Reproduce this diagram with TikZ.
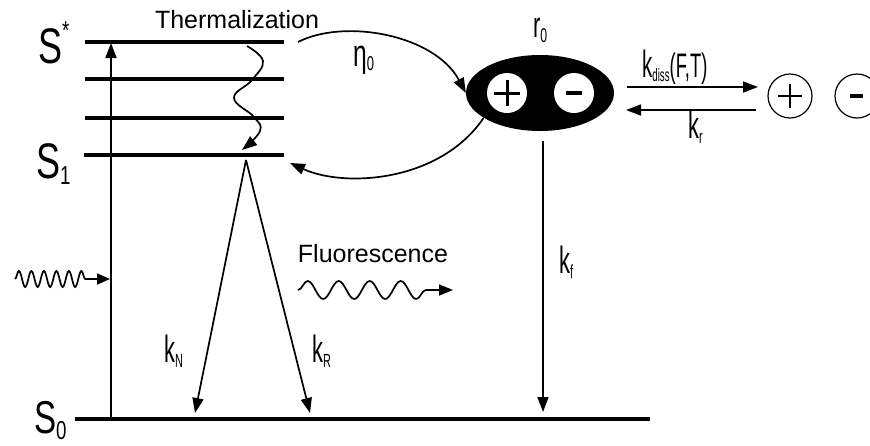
\documentclass[tikz,border=0pt]{standalone}
\usepackage{fontspec}
\setmainfont{Liberation Sans}
\usetikzlibrary{arrows.meta,shapes.geometric,decorations.pathmorphing}
\tikzset{
  level/.style={line width=3.2pt},
  arr/.style={line width=1.7pt,-{Triangle[length=15pt,width=11pt]}},
  lbl/.style={inner sep=0pt,anchor=base west,xscale=0.72},
  txt/.style={inner sep=0pt,anchor=base,font=\fontsize{25}{25}\selectfont},
}
\newcommand{\kk}[1]{{\fontsize{38}{38}\selectfont k}\raisebox{-5pt}{\fontsize{19}{19}\selectfont #1}}
\begin{document}
\begin{tikzpicture}[x=1pt,y=-1pt]
\useasboundingbox (0,0) rectangle (870,445);
\clip (0,0) rectangle (870,445);
% levels
\coordinate (s4L) at (85,42);  \coordinate (s4R) at (284,42);
\coordinate (s3L) at (85,79);  \coordinate (s3R) at (284,79);
\coordinate (s2L) at (85,118); \coordinate (s2R) at (284,118);
\coordinate (s1L) at (84,155); \coordinate (s1R) at (284,155);
\coordinate (s0L) at (75,419); \coordinate (s0R) at (650,419);
\draw[level] (s4L) -- (s4R);
\draw[level] (s3L) -- (s3R);
\draw[level] (s2L) -- (s2R);
\draw[level] (s1L) -- (s1R);
\draw[level] (s0L) -- (s0R);
% state labels
\node[lbl] (Sstar) at (38,63) {{\fontsize{50}{50}\selectfont S}\raisebox{24pt}{\fontsize{26}{26}\selectfont *}};
\node[lbl] (Sone) at (36,178) {{\fontsize{50}{50}\selectfont S}\raisebox{-6pt}{\fontsize{26}{26}\selectfont 1}};
\node[lbl] (Szero) at (34,433) {{\fontsize{46}{46}\selectfont S}\raisebox{-6pt}{\fontsize{26}{26}\selectfont 0}};
% excitation
\coordinate (excB) at (111,418);
\coordinate (excT) at (111,43);
\draw[arr] (excB) -- (excT);
\coordinate (lightA) at (15,279);
\coordinate (lightB) at (110,279);
\draw[line width=1.7pt,-{Triangle[length=13pt,width=11pt]},decorate,
  decoration={snake,amplitude=8pt,segment length=12.5pt,post length=20pt}] (lightA) -- (lightB);
% thermalization
\node[txt] (therm) at (237,28) {Thermalization};
\draw[arr] plot[smooth,tension=0.7] coordinates {(247,46) (263,61) (252,80) (234,98) (254,117) (260,131) (242,150)};
% decay from S1
\coordinate (apex) at (246,160);
\coordinate (kNend) at (195,413);
\coordinate (kRend) at (310,413);
\draw[arr] (apex) -- (kNend);
\draw[arr] (apex) -- (kRend);
\node[lbl,xscale=0.8] (kN) at (164,362) {\kk{N}};
\node[lbl,xscale=0.8] (kR) at (312,362) {\kk{R}};
% fluorescence
\node[txt] (fluo) at (373,262) {Fluorescence};
\coordinate (flA) at (298,290);
\coordinate (flB) at (453,290);
\draw[line width=1.7pt,-{Triangle[length=14pt,width=11pt]},decorate,
  decoration={snake,amplitude=9pt,segment length=31pt,post length=14pt}] (flA) -- (flB);
% charge transfer state
\node[ellipse,fill=black,minimum width=148pt,minimum height=76pt,inner sep=0pt] (ct) at (540,93) {};
\node[circle,fill=white,minimum size=40pt,inner sep=0pt] (cp) at (507,93) {};
\node[circle,fill=white,minimum size=40pt,inner sep=0pt] (cm) at (574,93) {};
\draw[line width=3pt] ([xshift=-13pt]cp.center) -- ([xshift=13pt]cp.center);
\draw[line width=3pt] ([yshift=-13pt]cp.center) -- ([yshift=13pt]cp.center);
\draw[line width=4pt] ([xshift=-8pt]cm.center) -- ([xshift=8pt]cm.center);
\node[lbl,xscale=0.85] (r0) at (533,37) {{\fontsize{36}{36}\selectfont r}\raisebox{-5pt}{\fontsize{20}{20}\selectfont 0}};
\node[lbl,xscale=0.9] (eta) at (353,66) {{\fontsize{38}{38}\selectfont η}\raisebox{-4pt}{\fontsize{20}{20}\selectfont 0}};
% transfer arrows
\coordinate (etaA) at (298,42);
\coordinate (backB) at (290,163);
\draw[arr] (etaA) .. controls (345,18) and (435,35) .. (ct.west);
\draw[arr] (ct.south west) ++(-4pt,2pt) coordinate (backA) .. controls (440,182) and (345,188) .. (backB);
% recombination to ground
\coordinate (kfA) at (543,141);
\coordinate (kfB) at (543,412);
\draw[arr] (kfA) -- (kfB);
\node[lbl,xscale=0.8] (kf) at (559,273) {\kk{f}};
% dissociation
\coordinate (dA) at (627,87);  \coordinate (dB) at (758,87);
\coordinate (rA) at (756,110); \coordinate (rB) at (626,110);
\draw[arr] (dA) -- (dB);
\draw[arr] (rA) -- (rB);
\node[lbl,xscale=0.75] (kdiss) at (642,77) {{\fontsize{38}{38}\selectfont k}\raisebox{-4pt}{\fontsize{18}{18}\selectfont diss}{\fontsize{34}{34}\selectfont (F,T)}};
\node[lbl,xscale=0.8] (kr) at (688,138) {\kk{r}};
% free charges
\node[circle,draw,line width=1.2pt,minimum size=44pt,inner sep=0pt] (fp) at (790,96) {};
\node[circle,draw,line width=1.2pt,minimum size=44pt,inner sep=0pt] (fm) at (857,96) {};
\draw[line width=2.4pt] ([xshift=-12pt]fp.center) -- ([xshift=12pt]fp.center);
\draw[line width=2.4pt] ([yshift=-12pt]fp.center) -- ([yshift=12pt]fp.center);
\draw[line width=3.2pt] ([xshift=-7pt]fm.center) -- ([xshift=6pt]fm.center);
\end{tikzpicture}
\end{document}
